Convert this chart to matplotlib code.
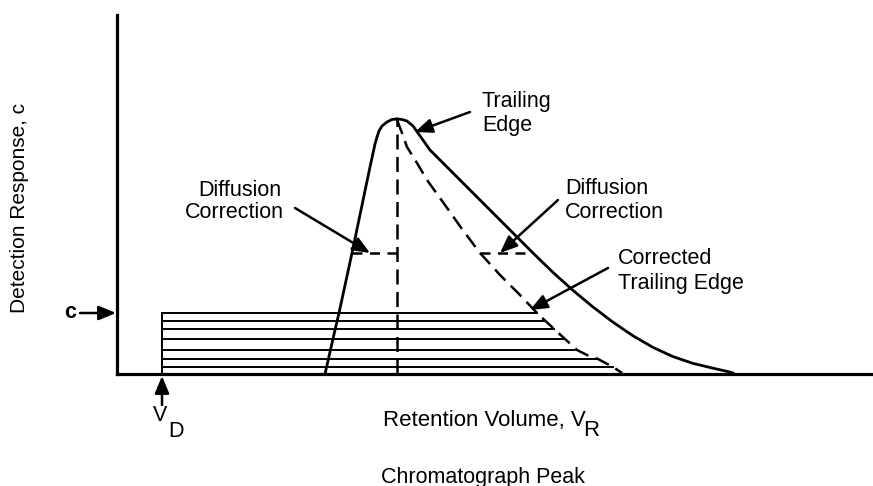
import numpy as np
import matplotlib
matplotlib.use("Agg")
import matplotlib.pyplot as plt

plt.rcParams['font.family'] = ['Liberation Sans', 'DejaVu Sans']

# retention volume (arbitrary units) / detector response (arbitrary units)
# rising (leading) edge of the peak, up to the apex
lead_x = [208, 218, 222, 235, 253, 258, 260, 262, 265, 270, 275, 280]
lead_y = [0, 44, 61, 121, 207, 230, 237, 243, 248, 252, 254.5, 255]

# measured trailing edge, apex down to baseline
trail_x = [280, 285, 290, 296, 313, 343, 383, 416, 436, 456, 476, 496,
           516, 536, 556, 576, 596, 611, 616]
trail_y = [255, 254.5, 253, 248, 224, 194, 154, 121, 101.6, 83.6, 67, 51.8,
           38.2, 26.6, 17.4, 10.6, 5.8, 2.4, 1]

# corrected trailing edge (dashed)
corr_x = [280, 285, 290, 300, 310, 328, 345, 363, 383, 403, 420, 436,
          448, 460, 470, 481, 496, 505]
corr_y = [254, 241, 227, 211, 194, 169, 145, 121, 99, 79, 61, 46,
          35, 24, 19, 15, 7, 1]

# peak position (vertical dashed line)
peak_x = 280
peak_y = 254

# diffusion correction segments at this response level
diff_y = 121
diff_left = [235, 280]
diff_right = [363, 416]

# dead volume V_D and the stack of horizontal slices under c
vd_x = 45
c_level = 61
slice_y = [61, 53, 45, 35, 24, 15, 7]
slice_end = [420, 428, 437, 447, 460, 481, 496]

fig = plt.figure(figsize=(8.73, 4.86), dpi=100)
ax = fig.add_axes([117 / 873, 112 / 486, 756 / 873, 359 / 486])
ax.set_xlim(0, 756)
ax.set_ylim(0, 359)
ax.set_xticks([])
ax.set_yticks([])
for s in ['top', 'right']:
    ax.spines[s].set_visible(False)
for s in ['left', 'bottom']:
    ax.spines[s].set_linewidth(2.3)

k = 'black'
ax.plot(lead_x, lead_y, color=k, lw=2.0, solid_joinstyle='round')
ax.plot(trail_x, trail_y, color=k, lw=2.0, solid_joinstyle='round')
ax.plot(corr_x, corr_y, color=k, lw=1.8, dashes=(6, 3))
ax.plot([peak_x, peak_x], [0, peak_y], color=k, lw=1.8, dashes=(6, 3))
ax.plot(diff_left, [diff_y, diff_y], color=k, lw=1.8, dashes=(4, 3))
ax.plot(diff_right, [diff_y, diff_y], color=k, lw=1.8, dashes=(4, 3))

for y, xe in zip(slice_y, slice_end):
    ax.plot([vd_x, xe], [y, y], color=k, lw=1.4)
ax.plot([vd_x, vd_x], [0, c_level], color=k, lw=1.4)

ap = dict(arrowstyle='-|>,head_length=0.65,head_width=0.27', color=k, lw=1.8,
          mutation_scale=16, shrinkA=0, shrinkB=0)
ax.annotate('', xy=(298, 242), xytext=(353, 262), arrowprops=ap)
ax.annotate('', xy=(253, 121), xytext=(178, 166), arrowprops=ap)
ax.annotate('', xy=(383, 121), xytext=(441, 174), arrowprops=ap)
ax.annotate('', xy=(413, 64), xytext=(491, 106), arrowprops=ap)
ax.annotate('', xy=(-1, c_level), xytext=(-37, c_level), arrowprops=ap,
            annotation_clip=False)
ax.annotate('', xy=(vd_x, -2), xytext=(vd_x, -31), arrowprops=ap,
            annotation_clip=False)

fs = 15.5
ax.text(365, 272, 'Trailing', fontsize=fs, va='center')
ax.text(365, 249, 'Edge', fontsize=fs, va='center')
ax.text(123, 184, 'Diffusion', fontsize=fs, ha='center', va='center')
ax.text(117, 161, 'Correction', fontsize=fs, ha='center', va='center')
ax.text(448, 186, 'Diffusion', fontsize=fs, va='center')
ax.text(448, 162, 'Correction', fontsize=fs, va='center')
ax.text(501, 116, 'Corrected', fontsize=fs, va='center')
ax.text(501, 91, 'Trailing Edge', fontsize=fs, va='center')
ax.text(-47, c_level, 'c', fontsize=fs, fontweight='bold', ha='center', va='center')
ax.text(43, -41, 'V', fontsize=fs, ha='center', va='center')
ax.text(59, -57, 'D', fontsize=fs, ha='center', va='center')
ax.text(266, -46, 'Retention Volume, V', fontsize=16, va='center')
ax.text(474, -56, 'R', fontsize=16, ha='center', va='center')
ax.text(366, -103, 'Chromatograph Peak', fontsize=fs, ha='center', va='center')
ax.text(-97, 166, 'Detection Response, c', fontsize=15, rotation=90,
        ha='center', va='center')

fig.savefig('out.png', dpi=100)
